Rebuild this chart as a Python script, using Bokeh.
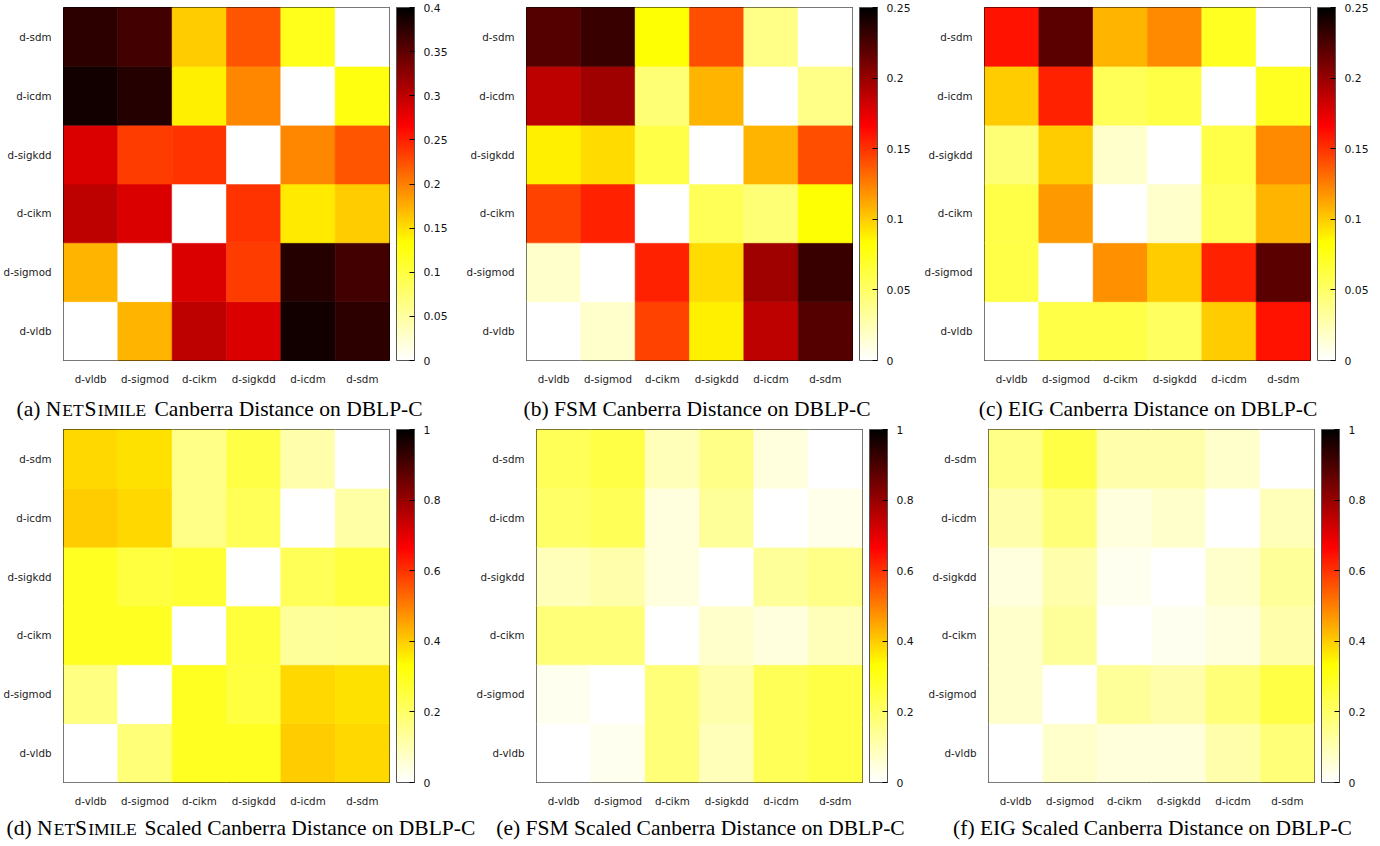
from bokeh.plotting import figure
from bokeh.models import (ColumnDataSource, LinearColorMapper, ColorBar, FixedTicker,
                          CustomJSTickFormatter, Label, Range1d)
from bokeh.layouts import column, row
from bokeh.embed import file_html
from bokeh.resources import INLINE

# ---------------- data ----------------
venues = ["d-vldb", "d-sigmod", "d-cikm", "d-sigkdd", "d-icdm", "d-sdm"]

# each row: y-venue (in venues order), values across x-venues
netsimile_canberra = [
    [0.000, 0.173, 0.300, 0.285, 0.390, 0.375],
    [0.173, 0.000, 0.285, 0.235, 0.380, 0.365],
    [0.300, 0.285, 0.000, 0.240, 0.145, 0.160],
    [0.285, 0.235, 0.240, 0.000, 0.196, 0.222],
    [0.390, 0.380, 0.142, 0.196, 0.000, 0.125],
    [0.375, 0.365, 0.160, 0.222, 0.120, 0.000],
]
fsm_canberra = [
    [0.000, 0.017, 0.145, 0.088, 0.188, 0.222],
    [0.017, 0.000, 0.156, 0.095, 0.198, 0.231],
    [0.145, 0.156, 0.000, 0.055, 0.045, 0.083],
    [0.088, 0.095, 0.060, 0.000, 0.108, 0.141],
    [0.188, 0.198, 0.045, 0.108, 0.000, 0.040],
    [0.222, 0.231, 0.083, 0.141, 0.040, 0.000],
]
eig_canberra = [
    [0.000, 0.060, 0.060, 0.052, 0.100, 0.161],
    [0.060, 0.000, 0.120, 0.100, 0.156, 0.220],
    [0.060, 0.117, 0.000, 0.017, 0.055, 0.108],
    [0.045, 0.100, 0.017, 0.000, 0.060, 0.122],
    [0.100, 0.156, 0.055, 0.061, 0.000, 0.073],
    [0.161, 0.220, 0.108, 0.122, 0.073, 0.000],
]
netsimile_scaled = [
    [0.000, 0.176, 0.290, 0.290, 0.400, 0.383],
    [0.167, 0.000, 0.290, 0.250, 0.383, 0.373],
    [0.290, 0.290, 0.000, 0.255, 0.133, 0.140],
    [0.290, 0.250, 0.267, 0.000, 0.220, 0.250],
    [0.400, 0.383, 0.157, 0.220, 0.000, 0.120],
    [0.383, 0.373, 0.157, 0.243, 0.110, 0.000],
]
fsm_scaled = [
    [0.000, 0.020, 0.176, 0.090, 0.220, 0.243],
    [0.020, 0.000, 0.176, 0.110, 0.220, 0.243],
    [0.176, 0.176, 0.000, 0.067, 0.043, 0.090],
    [0.090, 0.110, 0.043, 0.000, 0.133, 0.157],
    [0.200, 0.220, 0.043, 0.133, 0.000, 0.030],
    [0.220, 0.243, 0.090, 0.157, 0.043, 0.000],
]
eig_scaled = [
    [0.000, 0.067, 0.050, 0.050, 0.110, 0.176],
    [0.067, 0.000, 0.133, 0.110, 0.176, 0.243],
    [0.067, 0.133, 0.000, 0.020, 0.043, 0.110],
    [0.043, 0.110, 0.020, 0.000, 0.067, 0.133],
    [0.110, 0.176, 0.043, 0.067, 0.000, 0.090],
    [0.157, 0.243, 0.110, 0.110, 0.067, 0.000],
]

colorbar_max = [0.4, 0.25, 0.25, 1.0, 1.0, 1.0]
colorbar_ticks = [
    [0, 0.05, 0.1, 0.15, 0.2, 0.25, 0.3, 0.35, 0.4],
    [0, 0.05, 0.1, 0.15, 0.2, 0.25],
    [0, 0.05, 0.1, 0.15, 0.2, 0.25],
    [0, 0.2, 0.4, 0.6, 0.8, 1.0],
    [0, 0.2, 0.4, 0.6, 0.8, 1.0],
    [0, 0.2, 0.4, 0.6, 0.8, 1.0],
]
captions = [
    ["(a) N", "ET", "S", "IMILE", "Canberra Distance on DBLP-C"],
    "(b) FSM Canberra Distance on DBLP-C",
    "(c) EIG Canberra Distance on DBLP-C",
    ["(d) N", "ET", "S", "IMILE", "Scaled Canberra Distance on DBLP-C"],
    "(e) FSM Scaled Canberra Distance on DBLP-C",
    "(f) EIG Scaled Canberra Distance on DBLP-C",
]


# ---------------- palette (gnuplot-like reversed "hot") ----------------
def hot_reversed(n=256):
    cols = []
    for k in range(n):
        x = 1 - k / (n - 1)
        r = min(max(3 * x, 0), 1)
        g = min(max(3 * x - 1, 0), 1)
        b = min(max(3 * x - 2, 0), 1)
        cols.append("#%02x%02x%02x" % (round(r * 255), round(g * 255), round(b * 255)))
    return cols


PALETTE = hot_reversed()
TICK_FONT = "DejaVu Sans"
CAP_FONT = "Liberation Serif"
FRAME_W = 326
FRAME_H = 353
BORDER_TOP = 7
BORDER_BOTTOM = 22


def make_panel(matrix, vmax, ticks, fig_w, left):
    xs, ys, vs = [], [], []
    for i, yv in enumerate(venues):
        for j, xv in enumerate(venues):
            xs.append(xv)
            ys.append(yv)
            vs.append(matrix[i][j])
    src = ColumnDataSource(dict(x=xs, y=ys, v=vs))
    mapper = LinearColorMapper(palette=PALETTE, low=0, high=vmax)
    right = fig_w - left - FRAME_W
    p = figure(x_range=venues, y_range=venues, frame_width=FRAME_W, frame_height=FRAME_H,
               min_border_left=left, min_border_right=right, min_border_top=BORDER_TOP,
               min_border_bottom=BORDER_BOTTOM, output_backend="svg", toolbar_location=None)
    p.rect(x="x", y="y", width=1, height=1, source=src,
           fill_color={"field": "v", "transform": mapper},
           line_color={"field": "v", "transform": mapper}, line_width=0.6)
    p.grid.visible = False
    p.outline_line_color = "black"
    p.outline_line_width = 1
    p.outline_line_alpha = 1
    for ax in (p.xaxis[0], p.yaxis[0]):
        ax.axis_line_color = None
        ax.major_tick_line_color = None
        ax.minor_tick_line_color = None
        ax.major_label_text_font = TICK_FONT
        ax.major_label_text_font_size = "10.3px"
        ax.major_label_text_color = "#222222"
        ax.major_label_standoff = 6
    cb = ColorBar(color_mapper=mapper, width=18, height=FRAME_H, padding=0, margin=0,
                  location=(7, 0),
                  ticker=FixedTicker(ticks=ticks),
                  formatter=CustomJSTickFormatter(code="return String(Math.round(tick*100)/100);"),
                  major_label_text_font=TICK_FONT, major_label_text_font_size="10.8px",
                  major_label_text_color="#111111", label_standoff=9,
                  major_tick_in=5, major_tick_out=0, major_tick_line_color="black",
                  major_tick_line_width=1.2, minor_tick_line_color=None,
                  bar_line_color="#555555", bar_line_width=1,
                  border_line_color=None, background_fill_color=None)
    p.add_layout(cb, "right")
    return p


def caption_strip(height, items):
    s = figure(width=1364, height=height, x_range=Range1d(0, 1364), y_range=Range1d(0, height),
               x_axis_location=None, y_axis_location=None, min_border=0,
               output_backend="svg", toolbar_location=None)
    s.grid.visible = False
    s.outline_line_color = None
    for it in items:
        s.add_layout(Label(x=it[0], y=it[1], text=it[2], text_font=CAP_FONT,
                           text_font_size=it[3], text_align=it[4],
                           text_baseline="alphabetic", text_color="black"))
    return s


matrices = [netsimile_canberra, fsm_canberra, eig_canberra,
            netsimile_scaled, fsm_scaled, eig_scaled]
# (figure width, left border) per panel
geom = [(452, 54), (460, 65), (452, 57), (452, 54), (460, 75), (452, 67)]

panels = []
for k in range(6):
    w, l = geom[k]
    panels.append(make_panel(matrices[k], colorbar_max[k], colorbar_ticks[k], w, l))

BIG = "21.5px"
SMALL = "17.5px"
SC_DROP = 1.5


def netsimile_items(cap, y, x0, xet, xs, ximile, xrest):
    return [
        (x0, y, cap[0], BIG, "left"),
        (xet, y - SC_DROP, cap[1], SMALL, "center"),
        (xs, y, cap[2], BIG, "left"),
        (ximile, y - SC_DROP, cap[3], SMALL, "center"),
        (xrest, y, cap[4], BIG, "left"),
    ]


Y1 = 14
Y2 = 13
top_items = netsimile_items(captions[0], Y1, 16, 72.5, 84, 121.5, 154) + [
    (696.5, Y1, captions[1], BIG, "center"),
    (1147.5, Y1, captions[2], BIG, "center"),
]
bot_items = netsimile_items(captions[3], Y2, 6, 64, 74.5, 112, 144) + [
    (700, Y2, captions[4], BIG, "center"),
    (1152, Y2, captions[5], BIG, "center"),
]

strip1 = caption_strip(35, top_items)
strip2 = caption_strip(31, bot_items)

layout = column(row(*panels[:3]), strip1, row(*panels[3:]), strip2)

open("out.html", "w").write(file_html(layout, INLINE))
